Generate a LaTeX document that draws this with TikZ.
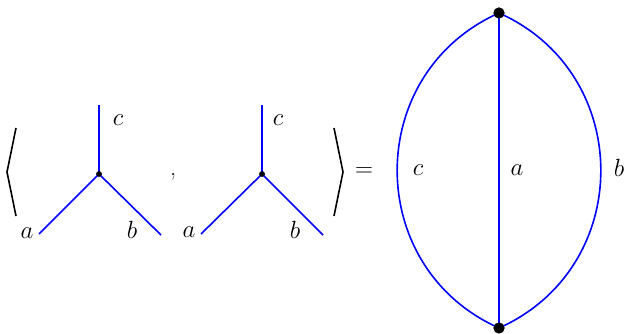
\documentclass[tikz,border=0pt]{standalone}
\usetikzlibrary{positioning}
\tikzset{
  every picture/.style={line width=1.6pt, font=\fontsize{24}{28}\selectfont},
  leg/.style={draw=blue, line width=1.6pt},
  brak/.style={draw=black, line width=1.6pt},
  lbl/.style={inner sep=0pt},
  knot/.style={circle, fill=black, inner sep=0pt, minimum size=5.5pt},
  bigknot/.style={circle, fill=black, inner sep=0pt, minimum size=11pt},
}

\begin{document}
\begin{tikzpicture}[x=1pt, y=1pt]
  \useasboundingbox (0,0) rectangle (628,334);
  % left bracket
  \coordinate (lb1) at (16,206);
  \coordinate (lb2) at (7,162);
  \coordinate (lb3) at (16,118);
  \draw[brak] (lb1) -- (lb2) -- (lb3);
  % first vertex
  \node[knot] (v1) at (99,160) {};
  \coordinate (v1c) at (99,229);
  \coordinate (v1a) at (39,100);
  \coordinate (v1b) at (161,99);
  \draw[leg] (v1.center) -- (v1c);
  \draw[leg] (v1.center) -- (v1a);
  \draw[leg] (v1.center) -- (v1b);
  \node[knot] at (v1) {};
  \node[lbl] (c1) at (118,214) {$c$};
  \node[lbl] (a1) at (27,101) {$a$};
  \node[lbl] (b1) at (132,104) {$b$};
  \node[lbl] (comma) at (173,157) {,};
  % second vertex
  \node[knot] (v2) at (262,160) {};
  \coordinate (v2c) at (262,229);
  \coordinate (v2a) at (201,100);
  \coordinate (v2b) at (323,99);
  \draw[leg] (v2.center) -- (v2c);
  \draw[leg] (v2.center) -- (v2a);
  \draw[leg] (v2.center) -- (v2b);
  \node[knot] at (v2) {};
  \node[lbl] (c2) at (278,214) {$c$};
  \node[lbl] (a2) at (189,102) {$a$};
  \node[lbl] (b2) at (295,104) {$b$};
  % right bracket
  \coordinate (rb1) at (334,206);
  \coordinate (rb2) at (343,162);
  \coordinate (rb3) at (334,118);
  \draw[brak] (rb1) -- (rb2) -- (rb3);
  \node[lbl] (eq) at (364,162) {$=$};
  % theta graph
  \node[bigknot] (top) at (499,321) {};
  \node[bigknot] (bot) at (499,6) {};
  \draw[leg] (top.center) -- (bot.center);
  \draw[leg] (top.center) to[bend right=66, looseness=1.21] (bot.center);
  \draw[leg] (top.center) to[bend left=66, looseness=1.21] (bot.center);
  \node[bigknot] at (top) {};
  \node[bigknot] at (bot) {};
  \node[lbl] (cc) at (418,164) {$c$};
  \node[lbl] (ac) at (517,164) {$a$};
  \node[lbl] (bc) at (619,166) {$b$};
\end{tikzpicture}
\end{document}
